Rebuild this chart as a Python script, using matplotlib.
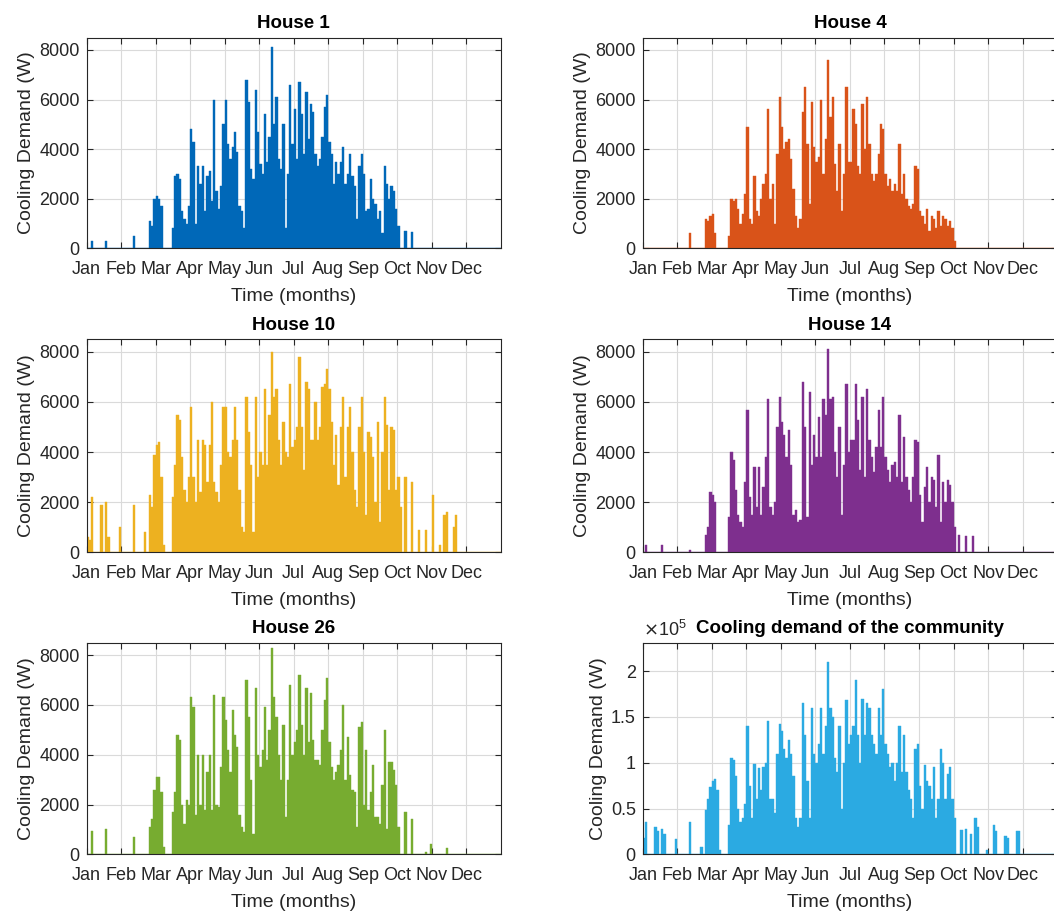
import numpy as np
import matplotlib
matplotlib.use('Agg')
import matplotlib.pyplot as plt

plt.rcParams['font.family'] = ['Liberation Sans', 'DejaVu Sans']

months = ['Jan', 'Feb', 'Mar', 'Apr', 'May', 'Jun',
          'Jul', 'Aug', 'Sep', 'Oct', 'Nov', 'Dec']

# peak cooling demand (W) in 15 bins per month (~2 days each)
house1 = [
    0, 0, 300, 0, 0, 0, 0, 0, 300, 0, 0, 0, 0, 0, 0,
    0, 0, 0, 0, 0, 500, 0, 0, 0, 0, 0, 0, 1100, 900, 2000,
    2100, 2000, 1700, 0, 0, 0, 0, 800, 2900, 3000, 2800, 1500, 1200, 1000, 1700,
    4800, 4300, 1000, 3300, 2600, 3300, 1500, 2900, 3100, 1900, 6000, 2300, 1600, 2500, 5000,
    6000, 4200, 3600, 4100, 4700, 3900, 1700, 1500, 800, 6800, 5900, 3200, 2800, 6400, 4700,
    3400, 3000, 5400, 3500, 4500, 8100, 5000, 6100, 3600, 3200, 5000, 800, 3000, 6600, 4200,
    5600, 3600, 6700, 5400, 3800, 6300, 4400, 5800, 5500, 3800, 3300, 3600, 4500, 5700, 6200,
    4300, 3800, 2600, 3500, 3000, 3500, 4100, 2600, 3000, 3800, 2900, 2500, 1200, 3300, 3800,
    3000, 1500, 1600, 2800, 2000, 1800, 1200, 1500, 600, 3300, 2600, 2000, 2500, 2300, 1600,
    900, 0, 0, 700, 0, 0, 650, 0, 0, 0, 0, 0, 0, 0, 0,
    0, 0, 0, 0, 0, 0, 0, 0, 0, 0, 0, 0, 0, 0, 0,
    0, 0, 0, 0, 0, 0, 0, 0, 0, 0, 0, 0, 0, 0, 0,
]

house4 = [
    0, 0, 0, 0, 0, 0, 0, 0, 0, 0, 0, 0, 0, 0, 0,
    0, 0, 0, 0, 0, 600, 0, 0, 0, 0, 0, 0, 1200, 1100, 1300,
    1400, 600, 0, 0, 0, 0, 0, 500, 2000, 1900, 2000, 1600, 1000, 1400, 2200,
    4900, 1200, 1000, 2900, 1500, 1300, 2000, 2600, 3000, 5600, 2000, 2600, 1000, 3800, 6100,
    4900, 4000, 4300, 4400, 3600, 2400, 1300, 800, 1200, 5500, 6500, 4200, 1800, 5900, 4100,
    3500, 3700, 6000, 3000, 4400, 7600, 5300, 6100, 3400, 2300, 4200, 1500, 3000, 6500, 3500,
    3500, 5600, 5000, 3300, 3000, 5800, 4000, 6100, 4200, 3000, 2700, 3000, 3800, 5000, 4800,
    3000, 2500, 2800, 2300, 2600, 2300, 4200, 2200, 3000, 2000, 1700, 1600, 1800, 3300, 3200,
    1500, 1300, 1000, 1600, 700, 1300, 1200, 800, 1500, 900, 1300, 1200, 900, 1100, 800,
    300, 0, 0, 0, 0, 0, 0, 0, 0, 0, 0, 0, 0, 0, 0,
    0, 0, 0, 0, 0, 0, 0, 0, 0, 0, 0, 0, 0, 0, 0,
    0, 0, 0, 0, 0, 0, 0, 0, 0, 0, 0, 0, 0, 0, 0,
]

house10 = [
    600, 500, 2200, 0, 0, 0, 1900, 0, 2000, 600, 0, 0, 0, 0, 1000,
    0, 0, 0, 0, 0, 1900, 0, 0, 0, 0, 800, 0, 2300, 1800, 3900,
    4300, 4400, 3000, 300, 0, 0, 0, 2200, 3500, 5500, 5300, 3800, 2500, 2000, 3000,
    5800, 3000, 2000, 4500, 2400, 4500, 4300, 2800, 4300, 6000, 2800, 2400, 2000, 3500, 5800,
    5800, 4000, 3800, 4500, 5800, 4500, 2500, 1000, 800, 6200, 4800, 3500, 800, 6200, 3000,
    4000, 3500, 6500, 3500, 5500, 8000, 6200, 6500, 4500, 3500, 5200, 4000, 3800, 6700, 4200,
    4500, 5000, 7800, 5000, 3300, 6800, 6500, 4500, 4500, 6000, 4500, 5000, 6600, 6700, 7300,
    6500, 5200, 3500, 4700, 2700, 5000, 6200, 3000, 5000, 5800, 4000, 2500, 1800, 5000, 6200,
    4000, 1500, 4800, 4600, 3800, 2000, 5200, 1200, 4000, 6200, 5100, 2500, 5000, 4900, 2500,
    3000, 1800, 0, 3000, 0, 0, 2800, 0, 0, 900, 0, 0, 900, 0, 0,
    2300, 0, 0, 300, 0, 1500, 1600, 0, 0, 1000, 1500, 0, 0, 0, 0,
    0, 0, 0, 0, 0, 0, 0, 0, 0, 0, 0, 0, 0, 0, 0,
]

house14 = [
    0, 300, 0, 0, 0, 0, 0, 0, 300, 0, 0, 0, 0, 0, 0,
    0, 0, 0, 0, 0, 100, 0, 0, 0, 0, 0, 0, 700, 1000, 2400,
    2300, 2000, 0, 0, 0, 0, 0, 1400, 4000, 3700, 2500, 1500, 1200, 1000, 2800,
    5700, 2200, 1500, 3400, 1800, 3400, 1500, 2600, 3800, 6100, 1800, 1500, 2000, 5000, 6200,
    5200, 4700, 3800, 4900, 3500, 1500, 1700, 1200, 1300, 6800, 5000, 1400, 6400, 3500, 4700,
    3800, 5400, 3800, 6100, 5500, 8100, 6100, 6200, 4000, 3000, 5000, 1500, 3500, 6700, 4000,
    4500, 4500, 6700, 5300, 3300, 6200, 3000, 6500, 4500, 3800, 3200, 4200, 5700, 4200, 6200,
    3800, 3300, 2800, 3500, 3600, 3000, 5500, 2800, 4600, 3000, 2500, 2000, 3000, 4500, 4400,
    2300, 1200, 2600, 3400, 2000, 3000, 2900, 1800, 3900, 1200, 2800, 2000, 2900, 2700, 2000,
    1000, 0, 700, 0, 0, 650, 0, 0, 650, 0, 0, 0, 0, 0, 0,
    0, 0, 0, 0, 0, 0, 0, 0, 0, 0, 0, 0, 0, 0, 0,
    0, 0, 0, 0, 0, 0, 0, 0, 0, 0, 0, 0, 0, 0, 0,
]

house26 = [
    0, 0, 950, 0, 0, 0, 0, 0, 1000, 0, 0, 0, 0, 0, 0,
    0, 0, 0, 0, 0, 700, 0, 0, 0, 0, 0, 0, 1100, 1400, 2600,
    3100, 3100, 2500, 300, 0, 0, 0, 1700, 2500, 4800, 4600, 2000, 1200, 2200, 2000,
    6300, 5900, 1600, 4000, 2000, 4000, 1800, 3300, 4000, 1800, 6400, 2000, 1900, 3500, 6300,
    5400, 4200, 3300, 5800, 4800, 4300, 1600, 1100, 900, 7000, 5500, 3000, 800, 6700, 4000,
    3500, 4200, 5900, 3800, 5000, 8300, 6300, 5500, 4000, 3000, 5200, 1500, 3000, 6800, 4000,
    4500, 5000, 7200, 5200, 4000, 6700, 4500, 6500, 4600, 3800, 3800, 3600, 5000, 6200, 7100,
    4500, 3500, 3000, 3300, 3600, 4200, 6000, 3000, 4700, 3200, 2600, 2500, 1100, 5100, 5300,
    2000, 4200, 1800, 2500, 3600, 1500, 1500, 1200, 2800, 5000, 1000, 3700, 3700, 3400, 2800,
    1100, 0, 0, 1700, 0, 0, 1400, 0, 0, 0, 0, 0, 100, 0, 400,
    0, 0, 0, 0, 0, 0, 250, 0, 0, 0, 0, 0, 0, 0, 0,
    0, 0, 0, 0, 0, 0, 0, 0, 0, 0, 0, 0, 0, 0, 0,
]

community = [
    18000, 35000, 0, 0, 0, 30000, 26000, 0, 28000, 22000, 0, 0, 0, 0, 17000,
    0, 0, 0, 0, 0, 35000, 0, 0, 0, 0, 8000, 0, 48000, 60000, 74000,
    80000, 82000, 70000, 5000, 0, 0, 0, 32000, 105000, 103000, 85000, 50000, 35000, 40000, 55000,
    140000, 75000, 40000, 99000, 60000, 94000, 70000, 95000, 100000, 146000, 60000, 60000, 45000, 110000, 142000,
    135000, 115000, 105000, 125000, 110000, 85000, 40000, 30000, 40000, 165000, 130000, 80000, 40000, 160000, 110000,
    100000, 120000, 160000, 110000, 140000, 210000, 160000, 150000, 105000, 90000, 140000, 50000, 100000, 168000, 120000,
    130000, 140000, 190000, 130000, 100000, 170000, 130000, 165000, 160000, 130000, 120000, 110000, 160000, 130000, 180000,
    120000, 110000, 95000, 100000, 80000, 100000, 140000, 90000, 130000, 90000, 70000, 60000, 40000, 115000, 120000,
    75000, 50000, 98000, 80000, 75000, 60000, 95000, 40000, 60000, 115000, 100000, 60000, 88000, 95000, 60000,
    40000, 0, 0, 27000, 0, 28000, 0, 22000, 0, 40000, 30000, 0, 0, 0, 5000,
    0, 0, 32000, 25000, 0, 0, 0, 20000, 18000, 0, 0, 0, 25000, 25000, 0,
    0, 0, 0, 0, 0, 0, 0, 0, 0, 0, 0, 0, 0, 0, 0,
]

TXT = '#262626'


def draw_panel(ax, vals, color, title, ymax):
    vals = np.array(vals, dtype=float)
    step = 8760 / len(vals)
    x = np.arange(len(vals)) * step
    ax.bar(x, vals, width=step, align='edge', color=color, edgecolor=color, linewidth=0.3)
    ax.set_xlim(0, 8760)
    ax.set_ylim(0, ymax)
    ax.set_xticks(np.arange(12) * 730)
    ax.set_xticklabels(months)
    ax.grid(True, color='#dadada', lw=0.8)
    ax.set_axisbelow(True)
    ax.tick_params(direction='in', top=True, right=True, length=4, width=0.8,
                   labelsize=13, colors=TXT)
    ax.tick_params(axis='x', pad=9)
    ax.tick_params(axis='y', pad=5)
    for s in ax.spines.values():
        s.set_color(TXT)
        s.set_linewidth(0.8)
    ax.set_title(title, fontsize=13.5, fontweight='bold', pad=7, color='black')
    ax.set_xlabel('Time (months)', fontsize=14, color=TXT, labelpad=7)
    ax.set_ylabel('Cooling Demand (W)', fontsize=14, color=TXT, labelpad=3)


fig = plt.figure(figsize=(10.54, 9.11), dpi=100)
lefts = [0.0821, 0.6098]
bottoms = [0.7274, 0.3937, 0.0622]
heights = [0.2314, 0.2338, 0.2323]
width = 0.3932

panels = [
    (house1, '#0068B8', 'House 1'),
    (house4, '#D95319', 'House 4'),
    (house10, '#EDB120', 'House 10'),
    (house14, '#7E2F8E', 'House 14'),
    (house26, '#77AC30', 'House 26'),
]

for i, (vals, col, ttl) in enumerate(panels):
    r, c = i // 2, i % 2
    ax = fig.add_axes([lefts[c], bottoms[r], width, heights[r]])
    draw_panel(ax, vals, col, ttl, 8500)
    ax.set_yticks([0, 2000, 4000, 6000, 8000])

ax = fig.add_axes([lefts[1], bottoms[2], width, heights[2]])
draw_panel(ax, community, '#2BAAE2', 'Cooling demand of the community', 2.31e5)
ax.set_yticks([0, 0.5e5, 1e5, 1.5e5, 2e5])
ax.set_yticklabels(['0', '0.5', '1', '1.5', '2'])
ax.text(0, 1.015, r'$\times\mathregular{10^5}$', transform=ax.transAxes,
        fontsize=13, color=TXT, ha='left', va='bottom')

fig.savefig('out.png', dpi=100)
